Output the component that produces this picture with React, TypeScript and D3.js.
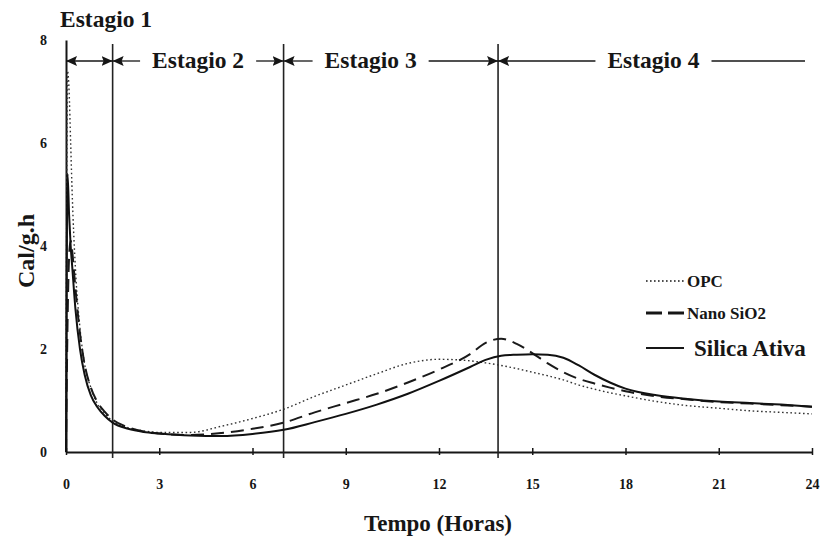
import React, { useRef, useEffect } from 'react';
import * as d3 from 'd3';

// Tempo (horas) shared by all three series
const hours = [0, 0.05, 0.1, 0.15, 0.2, 0.3, 0.45, 0.6, 0.8, 1, 1.25, 1.5, 2, 2.5, 3, 4, 5, 6, 7, 8, 9, 10, 11, 12, 13, 13.5, 14, 14.5, 15, 15.5, 16, 16.5, 17, 17.5, 18, 19, 20, 21, 22, 23, 24];
const opc = [0, 7.4, 7.0, 6.0, 5.0, 3.6, 2.4, 1.7, 1.25, 0.95, 0.75, 0.6, 0.47, 0.41, 0.38, 0.38, 0.5, 0.65, 0.83, 1.08, 1.3, 1.52, 1.72, 1.8, 1.77, 1.73, 1.68, 1.62, 1.55, 1.48, 1.4, 1.3, 1.22, 1.15, 1.09, 0.98, 0.9, 0.85, 0.8, 0.77, 0.74];
const nanoSiO2 = [0, 2.5, 3.8, 4.1, 3.9, 3.2, 2.3, 1.7, 1.25, 0.98, 0.78, 0.63, 0.48, 0.4, 0.36, 0.33, 0.37, 0.45, 0.57, 0.77, 0.95, 1.13, 1.35, 1.6, 1.9, 2.12, 2.2, 2.1, 1.92, 1.72, 1.55, 1.42, 1.33, 1.25, 1.18, 1.08, 1.02, 0.97, 0.94, 0.91, 0.88];
const silicaAtiva = [0, 5.4, 4.6, 4.0, 3.6, 2.8, 2.0, 1.5, 1.1, 0.88, 0.7, 0.57, 0.45, 0.39, 0.36, 0.32, 0.31, 0.35, 0.43, 0.58, 0.74, 0.92, 1.13, 1.38, 1.65, 1.79, 1.87, 1.89, 1.9, 1.89, 1.83, 1.68, 1.5, 1.35, 1.23, 1.1, 1.03, 0.98, 0.95, 0.92, 0.88];

const xTicks = [0, 3, 6, 9, 12, 15, 18, 21, 24];
const yTicks = [0, 2, 4, 6, 8];

const stageBounds = [0, 1.5, 7, 13.9, 24];
const stageNames = ['Estagio 1', 'Estagio 2', 'Estagio 3', 'Estagio 4'];
const stageLabelAt = [0, 4.25, 9.8, 18.9];

const legendNames = ['OPC', 'Nano SiO2', 'Silica Ativa'];

const FONT = '"Liberation Serif", "DejaVu Serif", serif';
const INK = '#161616';

const App = () => {
  const chartRef = useRef(null);

  useEffect(() => {
    document.body.style.margin = '0';
    d3.select(chartRef.current).select('svg').remove();

    const width = 824;
    const height = 538;

    const svg = d3.select(chartRef.current)
      .append('svg')
      .attr('width', width)
      .attr('height', height)
      .style('display', 'block')
      .style('background', '#fff');

    const x = d3.scaleLinear().domain([0, 24]).range([66, 812]);
    const y = d3.scaleLinear().domain([0, 8]).range([452, 40]);

    // arrow head
    svg.append('defs').append('marker')
      .attr('id', 'arrow')
      .attr('markerUnits', 'userSpaceOnUse')
      .attr('markerWidth', 12)
      .attr('markerHeight', 10)
      .attr('refX', 11)
      .attr('refY', 5)
      .attr('orient', 'auto-start-reverse')
      .append('path')
      .attr('d', 'M0,0 L11,5 L0,10 L2,5 Z')
      .attr('fill', INK);

    // x axis
    const xAxis = svg.append('g')
      .attr('transform', `translate(0,${y(0)})`)
      .call(d3.axisBottom(x).tickValues(xTicks).tickSizeInner(3).tickSizeOuter(0).tickPadding(24));
    xAxis.select('.domain').attr('stroke', INK).attr('stroke-width', 2);
    xAxis.selectAll('.tick line').attr('y1', -4).attr('stroke', INK).attr('stroke-width', 1.5);
    xAxis.selectAll('.tick text')
      .attr('font-family', FONT).attr('font-weight', 'bold').attr('font-size', 14).attr('fill', INK);

    // y axis
    const yAxis = svg.append('g')
      .attr('transform', `translate(${x(0)},0)`)
      .call(d3.axisLeft(y).tickValues(yTicks).tickSize(0).tickPadding(19));
    yAxis.select('.domain').attr('stroke', INK).attr('stroke-width', 2);
    yAxis.selectAll('.tick text')
      .attr('font-family', FONT).attr('font-weight', 'bold').attr('font-size', 14).attr('fill', INK);

    // stage boundaries
    svg.selectAll('.stage-line')
      .data(stageBounds.slice(1, 4))
      .enter().append('line')
      .attr('x1', d => x(d)).attr('x2', d => x(d))
      .attr('y1', 44).attr('y2', 458)
      .attr('stroke', '#222').attr('stroke-width', 1.6);

    // stage annotations
    const arrowY = 61;
    const gap = 12;
    const stageSize = 23.5;
    stageNames.forEach((name, i) => {
      const x0 = x(stageBounds[i]);
      const x1 = x(stageBounds[i + 1]);
      if (i === 0) {
        svg.append('line')
          .attr('x1', x0).attr('x2', x1).attr('y1', arrowY).attr('y2', arrowY)
          .attr('stroke', INK).attr('stroke-width', 1.3)
          .attr('marker-start', 'url(#arrow)').attr('marker-end', 'url(#arrow)');
        svg.append('text')
          .attr('x', 60).attr('y', 27)
          .attr('font-family', FONT).attr('font-weight', 'bold').attr('font-size', stageSize).attr('fill', INK)
          .text(name);
        return;
      }
      const t = svg.append('text')
        .attr('x', x(stageLabelAt[i])).attr('y', 68)
        .attr('text-anchor', 'middle')
        .attr('font-family', FONT).attr('font-weight', 'bold').attr('font-size', stageSize).attr('fill', INK)
        .text(name);
      const w = (t.node() as SVGTextElement).getComputedTextLength();
      const tl = x(stageLabelAt[i]) - w / 2;
      const tr = x(stageLabelAt[i]) + w / 2;
      svg.append('line')
        .attr('x1', x0).attr('x2', tl - gap).attr('y1', arrowY).attr('y2', arrowY)
        .attr('stroke', INK).attr('stroke-width', 1.3)
        .attr('marker-start', 'url(#arrow)');
      const right = svg.append('line')
        .attr('x1', tr + gap).attr('x2', i === 3 ? x1 - 7 : x1).attr('y1', arrowY).attr('y2', arrowY)
        .attr('stroke', INK).attr('stroke-width', 1.3);
      if (i < 3) right.attr('marker-end', 'url(#arrow)');
    });

    // curves
    const styles = [
      { values: opc, width: 1.4, dash: '1.6,2.6', color: '#333' },
      { values: nanoSiO2, width: 2, dash: '13,7', color: '#1a1a1a' },
      { values: silicaAtiva, width: 2, dash: null, color: '#111' },
    ];
    const line = d3.line<number>()
      .x((d, i) => x(hours[i]))
      .y(d => y(d))
      .curve(d3.curveMonotoneX);
    styles.forEach(s => {
      svg.append('path')
        .attr('d', line(s.values))
        .attr('fill', 'none')
        .attr('stroke', s.color)
        .attr('stroke-width', s.width)
        .attr('stroke-dasharray', s.dash);
    });

    // legend
    const legendY = [281, 313, 348];
    const legendDash = ['1.6,2.4', '16,6', null];
    const legendWidth = [1.6, 3, 1.8];
    const legendSize = [17, 17, 23];
    const legendTextX = [687, 687, 694];
    legendNames.forEach((name, i) => {
      svg.append('line')
        .attr('x1', 646).attr('x2', 684)
        .attr('y1', legendY[i]).attr('y2', legendY[i])
        .attr('stroke', INK)
        .attr('stroke-width', legendWidth[i])
        .attr('stroke-dasharray', legendDash[i]);
      svg.append('text')
        .attr('x', legendTextX[i]).attr('y', legendY[i])
        .attr('dy', '0.35em')
        .attr('font-family', FONT).attr('font-weight', 'bold')
        .attr('font-size', legendSize[i]).attr('fill', INK)
        .text(name);
    });

    // axis titles
    svg.append('text')
      .attr('x', 438).attr('y', 531)
      .attr('text-anchor', 'middle')
      .attr('font-family', FONT).attr('font-weight', 'bold').attr('font-size', 23).attr('fill', INK)
      .text('Tempo (Horas)');

    svg.append('text')
      .attr('transform', `translate(34,251) rotate(-90)`)
      .attr('text-anchor', 'middle')
      .attr('font-family', FONT).attr('font-weight', 'bold').attr('font-size', 24).attr('fill', INK)
      .text('Cal/g.h');
  }, []);

  return <div ref={chartRef}></div>;
};

export default App;
